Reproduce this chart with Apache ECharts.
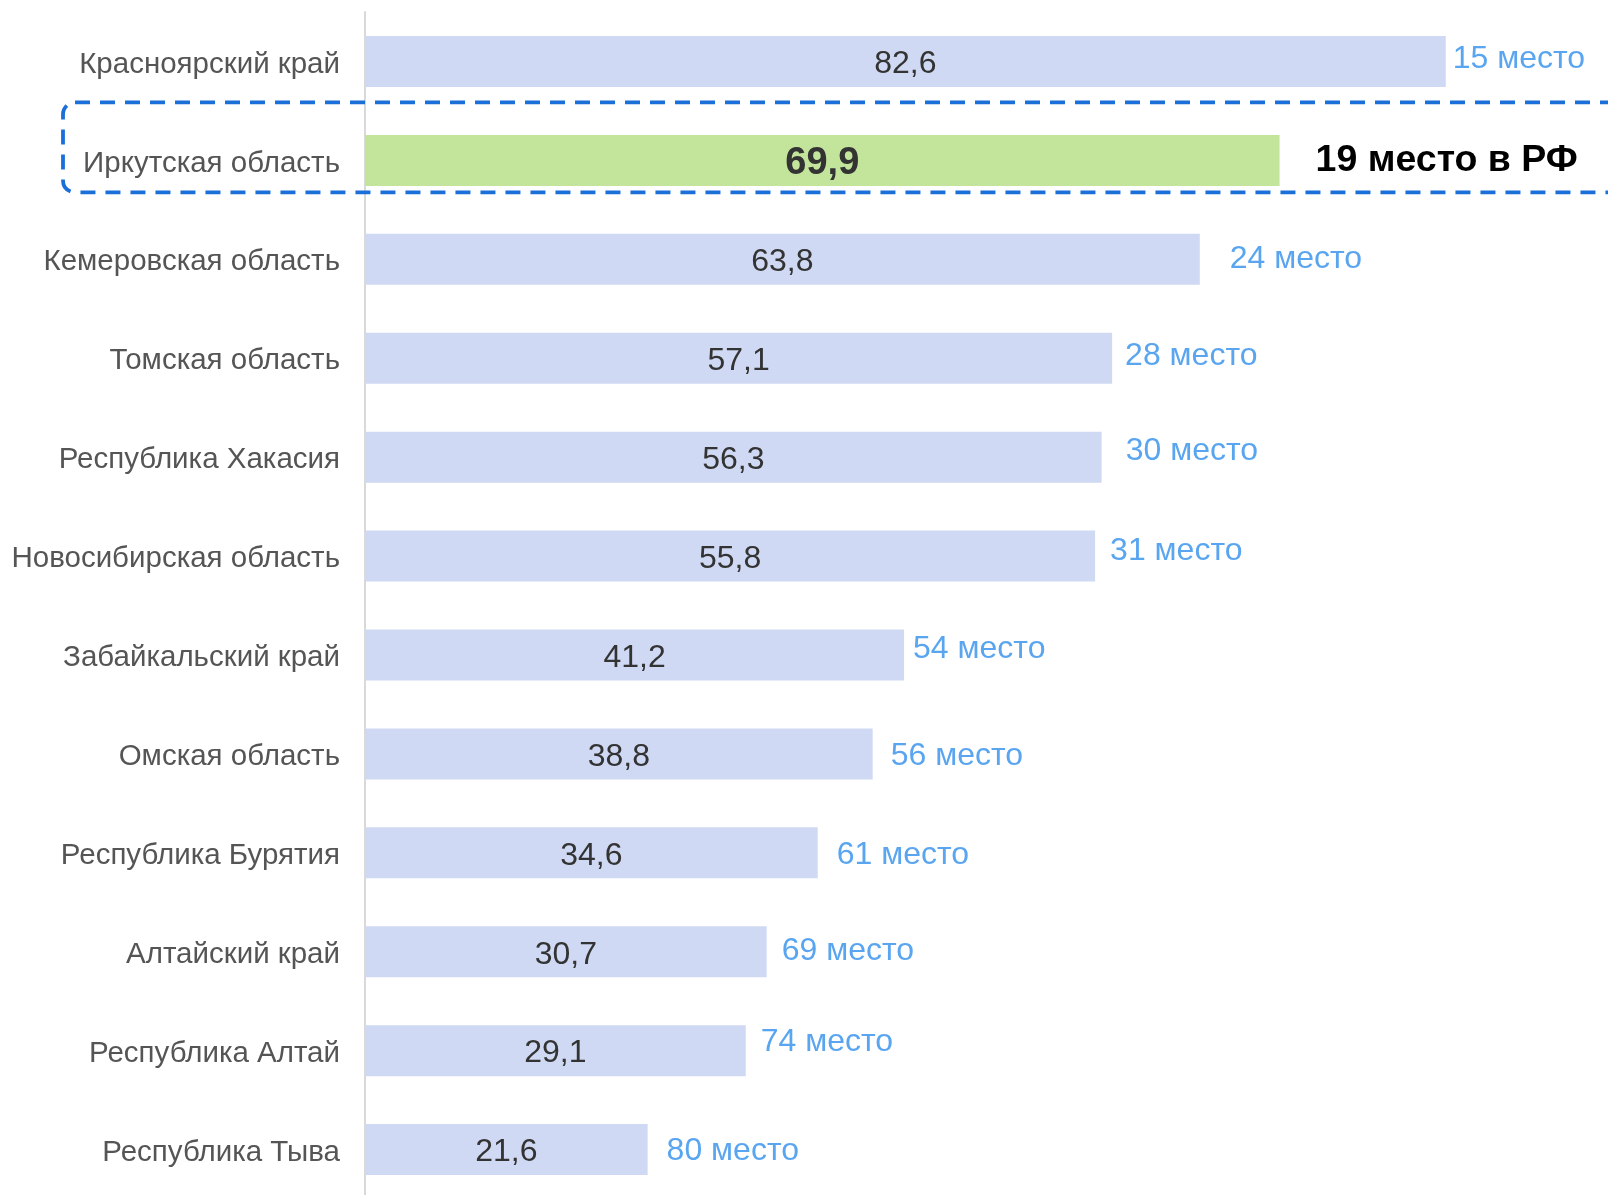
<!DOCTYPE html>
<html>
<head>
<meta charset="utf-8">
<script src="https://cdn.jsdelivr.net/npm/echarts@6/dist/echarts.min.js"></script>
<style>
html,body{margin:0;padding:0;background:#fff;}
#chart{width:1608px;height:1195px;}
</style>
</head>
<body>
<div id="chart"></div>
<script>
const categories = ['Красноярский край','Иркутская область','Кемеровская область','Томская область','Республика Хакасия','Новосибирская область','Забайкальский край','Омская область','Республика Бурятия','Алтайский край','Республика Алтай','Республика Тыва'];
const values = [82.6, 69.9, 63.8, 57.1, 56.3, 55.8, 41.2, 38.8, 34.6, 30.7, 29.1, 21.6];
const ranks = ['15 место','19 место в РФ','24 место','28 место','30 место','31 место','54 место','56 место','61 место','69 место','74 место','80 место'];
const highlightIndex = 1;
// label nudges [dx, dy] for the rank labels (style only)
const rankNudge = [[-9,-2],[20,0],[14,0],[-3,-2],[8,-6],[-1,-5],[-7,-6],[2,2],[3,2],[-1,-1],[-1,-8],[3,2]];

const FONT = '"Liberation Sans", Arial, sans-serif';
const fmt = v => String(v).replace('.', ',');

const chart = echarts.init(document.getElementById('chart'), null, {renderer: 'canvas'});

const mainData = values.map((v, i) => ({
  value: v,
  itemStyle: {color: i === highlightIndex ? '#c2e59b' : '#cfd9f3'},
  label: i === highlightIndex ? {fontSize: 38, fontWeight: 'bold', color: '#333333'} : {}
}));

const rankData = values.map((v, i) => ({
  value: v,
  label: i === highlightIndex
    ? {fontSize: 37.5, fontWeight: 'bold', color: '#000000', offset: rankNudge[i]}
    : {offset: rankNudge[i]}
}));

chart.setOption({
  animation: false,
  backgroundColor: '#ffffff',
  grid: {left: 365, top: 12, width: 1243, height: 1187, containLabel: false, outerBoundsMode: 'none'},
  xAxis: {
    type: 'value', min: 0, max: 95,
    show: false
  },
  yAxis: {
    type: 'category', data: categories, inverse: true,
    axisLine: {show: true, lineStyle: {color: '#d9d9d9', width: 2}},
    axisTick: {show: false},
    axisLabel: {
      fontFamily: FONT, fontSize: 29.5, color: '#555555', margin: 25,
      formatter: v => '{a|' + v + '}',
      rich: {a: {fontFamily: FONT, fontSize: 29.5, color: '#555555', padding: [6, 0, 0, 0]}}
    }
  },
  series: [
    {
      type: 'bar', data: mainData, barWidth: 51, z: 2,
      label: {
        show: true, position: 'inside', fontFamily: FONT, fontSize: 32, color: '#333333',
        offset: [0, 3],
        formatter: p => fmt(p.value)
      }
    },
    {
      type: 'bar', data: rankData, barWidth: 51, barGap: '-100%', z: 1, silent: true,
      itemStyle: {color: 'rgba(0,0,0,0)'},
      label: {
        show: true, position: 'right', distance: 16, fontFamily: FONT, fontSize: 32, color: '#5aa5f0',
        formatter: p => ranks[p.dataIndex]
      }
    }
  ]
});

// dashed highlight frame around the highlighted row
const cy = chart.convertToPixel({yAxisIndex: 0}, categories[highlightIndex]);
chart.setOption({
  graphic: [{
    type: 'rect', z: 100, silent: true,
    shape: {x: 63, y: cy - 58, width: 1620, height: 90, r: 12},
    style: {fill: 'none', stroke: '#1b6fd8', lineWidth: 3.8, lineDash: [15, 10]}
  }]
});
</script>
</body>
</html>
